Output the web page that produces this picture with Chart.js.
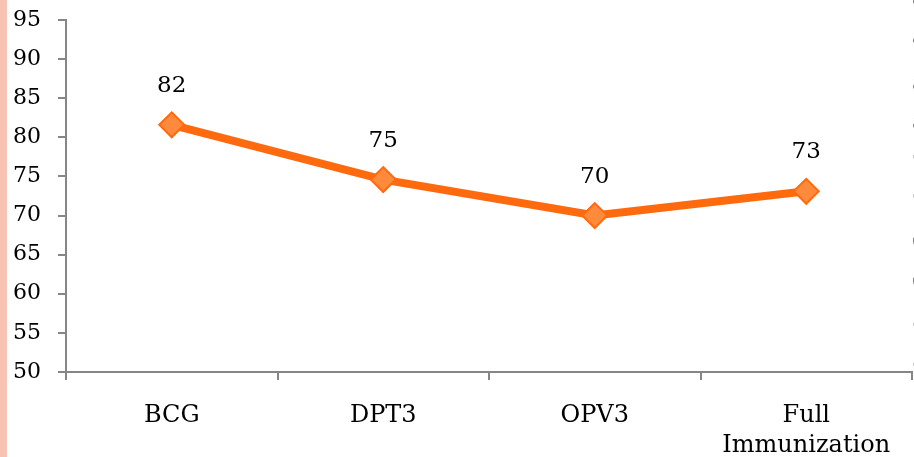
<!DOCTYPE html>
<html>
<head>
<meta charset="utf-8">
<script src="https://cdn.jsdelivr.net/npm/chart.js@4/dist/chart.umd.min.js"></script>
<style>
  html, body { margin: 0; padding: 0; background: #fff; overflow: hidden; }
  #wrap { position: relative; width: 914px; height: 457px; }
  #strip { position: absolute; left: 0; top: 0; width: 7px; height: 457px; background: #f9c3b3; }
  #chart { position: absolute; left: 0; top: 0; }
  #edge { position: absolute; left: 912px; top: -6px; font: 21px "DejaVu Serif", serif; color: #222; }
  #edge div { height: 39.4px; line-height: 22px; }
</style>
</head>
<body>
<div id="wrap">
  <div id="strip"></div>
  <canvas id="chart" width="914" height="457"></canvas>
  <div id="edge"></div>
</div>
<script>
// Chart data
const categories = ['BCG', 'DPT3', 'OPV3', ['Full', 'Immunization']];
const coverage = [81.6, 74.6, 70.0, 73.1];
const coverageLabels = ['82', '75', '70', '73'];
const yTicks = [50, 55, 60, 65, 70, 75, 80, 85, 90, 95];
// labels of the neighbouring chart, cut off at the right edge
const edgeLabels = ['95', '90', '85', '80', '75', '70', '65', '60', '55', '50'];

const edge = document.getElementById('edge');
edgeLabels.forEach(t => {
  const d = document.createElement('div');
  d.textContent = t;
  edge.appendChild(d);
});

const serif = '"DejaVu Serif", serif';
const axisGrey = '#868686';

// Draws the value labels above each point
const valueLabels = {
  id: 'valueLabels',
  afterDatasetsDraw(chart) {
    const ctx = chart.ctx;
    const meta = chart.getDatasetMeta(0);
    ctx.save();
    ctx.font = '23px ' + serif;
    ctx.fillStyle = '#000';
    ctx.textAlign = 'center';
    ctx.textBaseline = 'middle';
    meta.data.forEach((pt, i) => {
      ctx.fillText(coverageLabels[i], pt.x, pt.y - 39);
    });
    ctx.restore();
  }
};

const chart = new Chart(document.getElementById('chart'), {
  type: 'line',
  data: {
    labels: categories,
    datasets: [{
      data: coverage,
      borderColor: '#ff6a0e',
      borderWidth: 8,
      pointStyle: 'rectRot',
      pointRadius: 12.5,
      pointHoverRadius: 12.5,
      pointBackgroundColor: '#ff8a3c',
      pointBorderColor: '#ff6a0e',
      pointBorderWidth: 2,
      tension: 0
    }]
  },
  options: {
    responsive: false,
    animation: false,
    events: [],
    layout: { autoPadding: false, padding: { top: 20, right: 2, left: 0, bottom: 0 } },
    plugins: { legend: { display: false }, tooltip: { enabled: false } },
    scales: {
      x: {
        offset: true,
        grid: { offset: true, drawOnChartArea: false, tickLength: 8, tickColor: axisGrey, lineWidth: 2 },
        border: { color: axisGrey, width: 2 },
        ticks: { color: '#000', font: { family: serif, size: 24, lineHeight: 1.25 }, padding: 21, maxRotation: 0 },
        afterFit(scale) { scale.height = 85; }
      },
      y: {
        min: 50,
        max: 95,
        afterBuildTicks(scale) { scale.ticks = yTicks.map(v => ({ value: v })); },
        grid: { drawOnChartArea: false, tickLength: 8, tickColor: axisGrey, lineWidth: 2 },
        border: { color: axisGrey, width: 2 },
        ticks: { color: '#000', font: { family: serif, size: 22 }, padding: 17 },
        afterFit(scale) {
          scale.width = 66;
          scale.paddingTop = 0;
          scale.paddingBottom = 0;
        }
      }
    }
  },
  plugins: [valueLabels]
});
</script>
</body>
</html>
